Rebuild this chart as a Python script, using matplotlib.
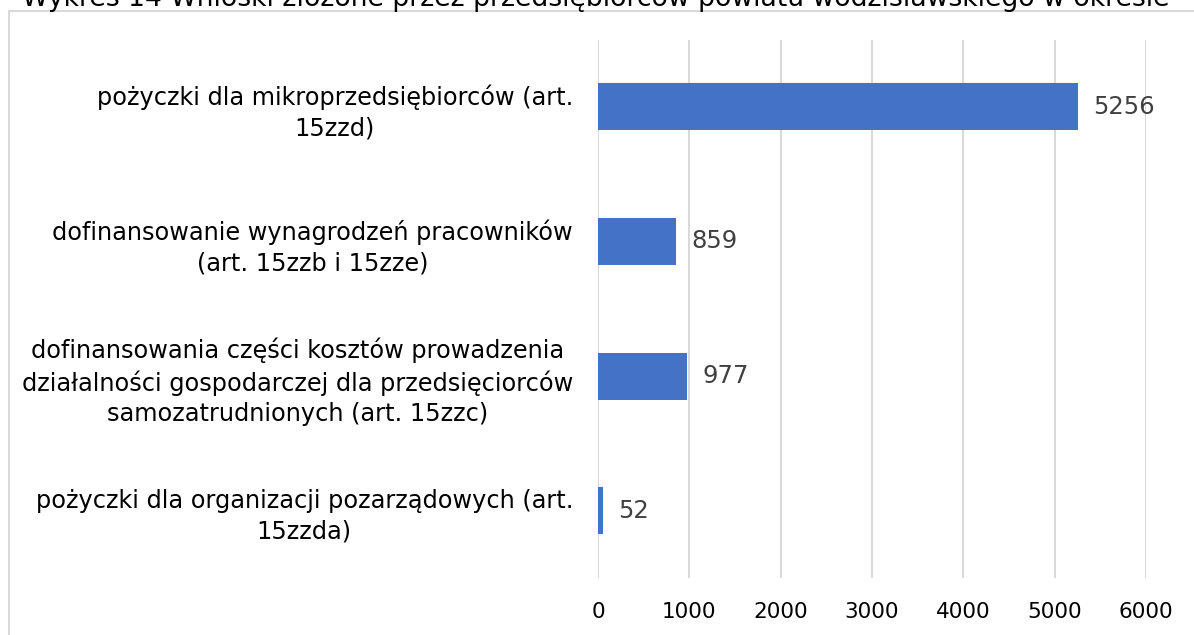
import matplotlib
matplotlib.use("Agg")
import matplotlib.pyplot as plt
from matplotlib.patches import Rectangle
import numpy as np

# data
categories = [
    "pożyczki dla mikroprzedsiębiorców (art.\n15zzd)",
    "dofinansowanie wynagrodzeń pracowników\n(art. 15zzb i 15zze)",
    "dofinansowania części kosztów prowadzenia\ndziałalności gospodarczej dla przedsięciorców\nsamozatrudnionych (art. 15zzc)",
    "pożyczki dla organizacji pozarządowych (art.\n15zzda)",
]
values = [5256, 859, 977, 52]
x_ticks = [0, 1000, 2000, 3000, 4000, 5000, 6000]
title = "Wykres 14 Wnioski złożone przez przedsiębiorców powiatu wodzisławskiego w okresie"

W, H = 1194, 635
fig = plt.figure(figsize=(W / 100, H / 100), dpi=100)
fig.patch.set_facecolor("white")

ax = fig.add_axes([598 / W, 1 - 578 / H, (1146 - 598) / W, (578 - 39.5) / H])

y = np.arange(len(categories))
ax.barh(y, values, height=0.35, color="#4472C4", zorder=3)

ax.set_xlim(0, 6000)
ax.set_ylim(len(categories) - 0.5, -0.5)
ax.set_xticks(x_ticks)
ax.set_xticklabels([str(t) for t in x_ticks], fontsize=15.5, color="black")
ax.set_yticks(y)
ax.set_yticklabels(categories, fontsize=17.3, color="black")
for lbl in ax.get_yticklabels():
    lbl.set_multialignment("center")
    lbl.set_linespacing(1.35)
ax.tick_params(axis="both", length=0)
ax.tick_params(axis="x", pad=17)
ax.tick_params(axis="y", pad=18)
ax.grid(axis="x", color="#d9d9d9", linewidth=1.5, zorder=0)
ax.set_axisbelow(True)
for s in ax.spines.values():
    s.set_visible(False)

for yi, v in zip(y, values):
    ax.annotate(str(v), (v, yi), xytext=(11, 0), textcoords="offset points",
                va="center", ha="left", fontsize=17.5, color="#404040")

# chart area border (cut off on the right and bottom)
fig.patches.append(Rectangle((9 / W, -0.1), 1.2, 1 - 10.5 / H + 0.1,
                             transform=fig.transFigure, fill=False,
                             edgecolor="#d9d9d9", linewidth=1.5))

# title clipped at the top edge
t = fig.text(22 / W, 1 - 6.5 / H, title, ha="left", va="baseline", fontsize=22,
             family=["Liberation Sans Narrow", "DejaVu Sans"], color="black")
fig.canvas.draw()
w = t.get_window_extent().width
t.set_fontsize(22 * (1143 / w))

fig.savefig("out.png", dpi=100)
